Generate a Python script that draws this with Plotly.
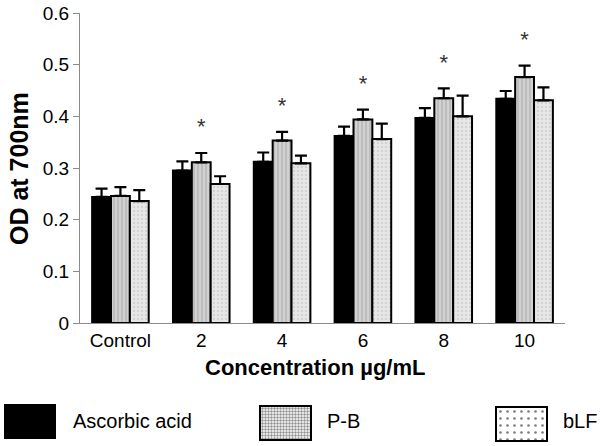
import plotly.graph_objects as go

categories = ["Control", "2", "4", "6", "8", "10"]
ascorbic = [0.244, 0.295, 0.312, 0.362, 0.397, 0.434]
ascorbic_err = [0.016, 0.018, 0.018, 0.018, 0.019, 0.015]
pb = [0.246, 0.311, 0.353, 0.394, 0.435, 0.476]
pb_err = [0.017, 0.018, 0.017, 0.019, 0.019, 0.022]
blf = [0.236, 0.269, 0.309, 0.356, 0.400, 0.431]
blf_err = [0.021, 0.015, 0.015, 0.030, 0.040, 0.025]
significant = [False, True, True, True, True, True]
series_names = ["Ascorbic acid", "P-B", "bLF"]

FONT = "Liberation Sans, Arial, sans-serif"
W, H = 600, 446

fig = go.Figure()

def err(v):
    return dict(type="data", array=v, symmetric=False, arrayminus=[0]*len(v),
                color="black", thickness=2.2, width=6)

fig.add_trace(go.Bar(x=categories, y=ascorbic, name=series_names[0], error_y=err(ascorbic_err),
                     marker=dict(color="black", line=dict(color="black", width=2))))
fig.add_trace(go.Bar(x=categories, y=pb, name=series_names[1], error_y=err(pb_err),
                     marker=dict(color="#d2d2d2", line=dict(color="black", width=2),
                                 pattern=dict(shape="|", fgcolor="#8c8c8c", bgcolor="#d2d2d2",
                                              size=4, solidity=0.3))))
fig.add_trace(go.Bar(x=categories, y=blf, name=series_names[2], error_y=err(blf_err),
                     marker=dict(color="#e6e6e6", line=dict(color="black", width=2),
                                 pattern=dict(shape=".", fgcolor="#b4b4b4", bgcolor="#e6e6e6",
                                              size=4, solidity=0.2))))

# significance asterisks above the P-B bars
star_x = [c for c, s in zip(categories, significant) if s]
star_y = [v + e + 0.047 for v, e, s in zip(pb, pb_err, significant) if s]
fig.add_trace(go.Scatter(x=star_x, y=star_y, mode="text", text=["*"]*len(star_x),
                         textposition="middle center", hoverinfo="skip",
                         textfont=dict(family=FONT, size=22, color="#333333"), showlegend=False))

# legend swatches on a hidden pixel-scaled axis
leg_x = [30, 285.5, 521.5]
leg_w = [50, 51, 51]
leg_top = [405, 406, 407]
leg_h = [33, 34, 34]
leg_patterns = [dict(shape=""),
                dict(shape=".", fgcolor="#222222", bgcolor="white", size=3, solidity=0.5),
                dict(shape=".", fgcolor="black", bgcolor="white", size=7, solidity=0.12)]
leg_colors = ["black", "white", "white"]
for i in range(3):
    fig.add_trace(go.Bar(x=[leg_x[i]], y=[leg_h[i]], base=[leg_top[i]], width=[leg_w[i]],
                         xaxis="x2", yaxis="y2", showlegend=False, hoverinfo="skip",
                         marker=dict(color=leg_colors[i], line=dict(color="black", width=2),
                                     pattern=leg_patterns[i])))
leg_text_x = [71, 325, 561]
for i in range(3):
    fig.add_annotation(x=leg_text_x[i] / W, y=1 - 421 / H, xref="paper", yref="paper",
                       text=series_names[i], showarrow=False, xanchor="left", yanchor="middle",
                       font=dict(family=FONT, size=20, color="black"))

fig.update_layout(
    width=W, height=H,
    margin=dict(l=0, r=0, t=0, b=0),
    paper_bgcolor="white", plot_bgcolor="white",
    barmode="group", bargap=0.3, bargroupgap=0,
    showlegend=False,
    font=dict(family=FONT, size=19, color="black"),
    xaxis=dict(domain=[80 / W, 565 / W], showline=True, linecolor="#8c8c8c", linewidth=1,
               ticks="", showgrid=False, tickfont=dict(size=19), anchor="y", automargin=False),
    yaxis=dict(domain=[1 - 323 / H, 1 - 13 / H], range=[0, 0.6],
               tickvals=[0, 0.1, 0.2, 0.3, 0.4, 0.5, 0.6],
               ticktext=["0", "0.1", "0.2", "0.3", "0.4", "0.5", "0.6"],
               showline=True, linecolor="#8c8c8c", linewidth=1, ticks="outside",
               ticklen=6, tickcolor="#8c8c8c", showgrid=False, zeroline=False,
               tickfont=dict(size=19), anchor="x", automargin=False),
    xaxis2=dict(domain=[0, 1], range=[0, W], visible=False, anchor="y2"),
    yaxis2=dict(domain=[0, 66 / H], range=[H, H - 66], visible=False, anchor="x2"),
)

fig.add_annotation(x=315 / W, y=1 - 367 / H, xref="paper", yref="paper",
                   text="<b>Concentration µg/mL</b>", showarrow=False,
                   xanchor="center", yanchor="middle", font=dict(family=FONT, size=22))
fig.add_annotation(x=19 / W, y=1 - 169 / H, xref="paper", yref="paper",
                   text="<b>OD at 700nm</b>", showarrow=False, textangle=-90,
                   xanchor="center", yanchor="middle", font=dict(family=FONT, size=25))

fig.write_html("out.html", config={"displayModeBar": False},
               post_script="document.body.style.margin='0';document.body.style.overflow='hidden';")
